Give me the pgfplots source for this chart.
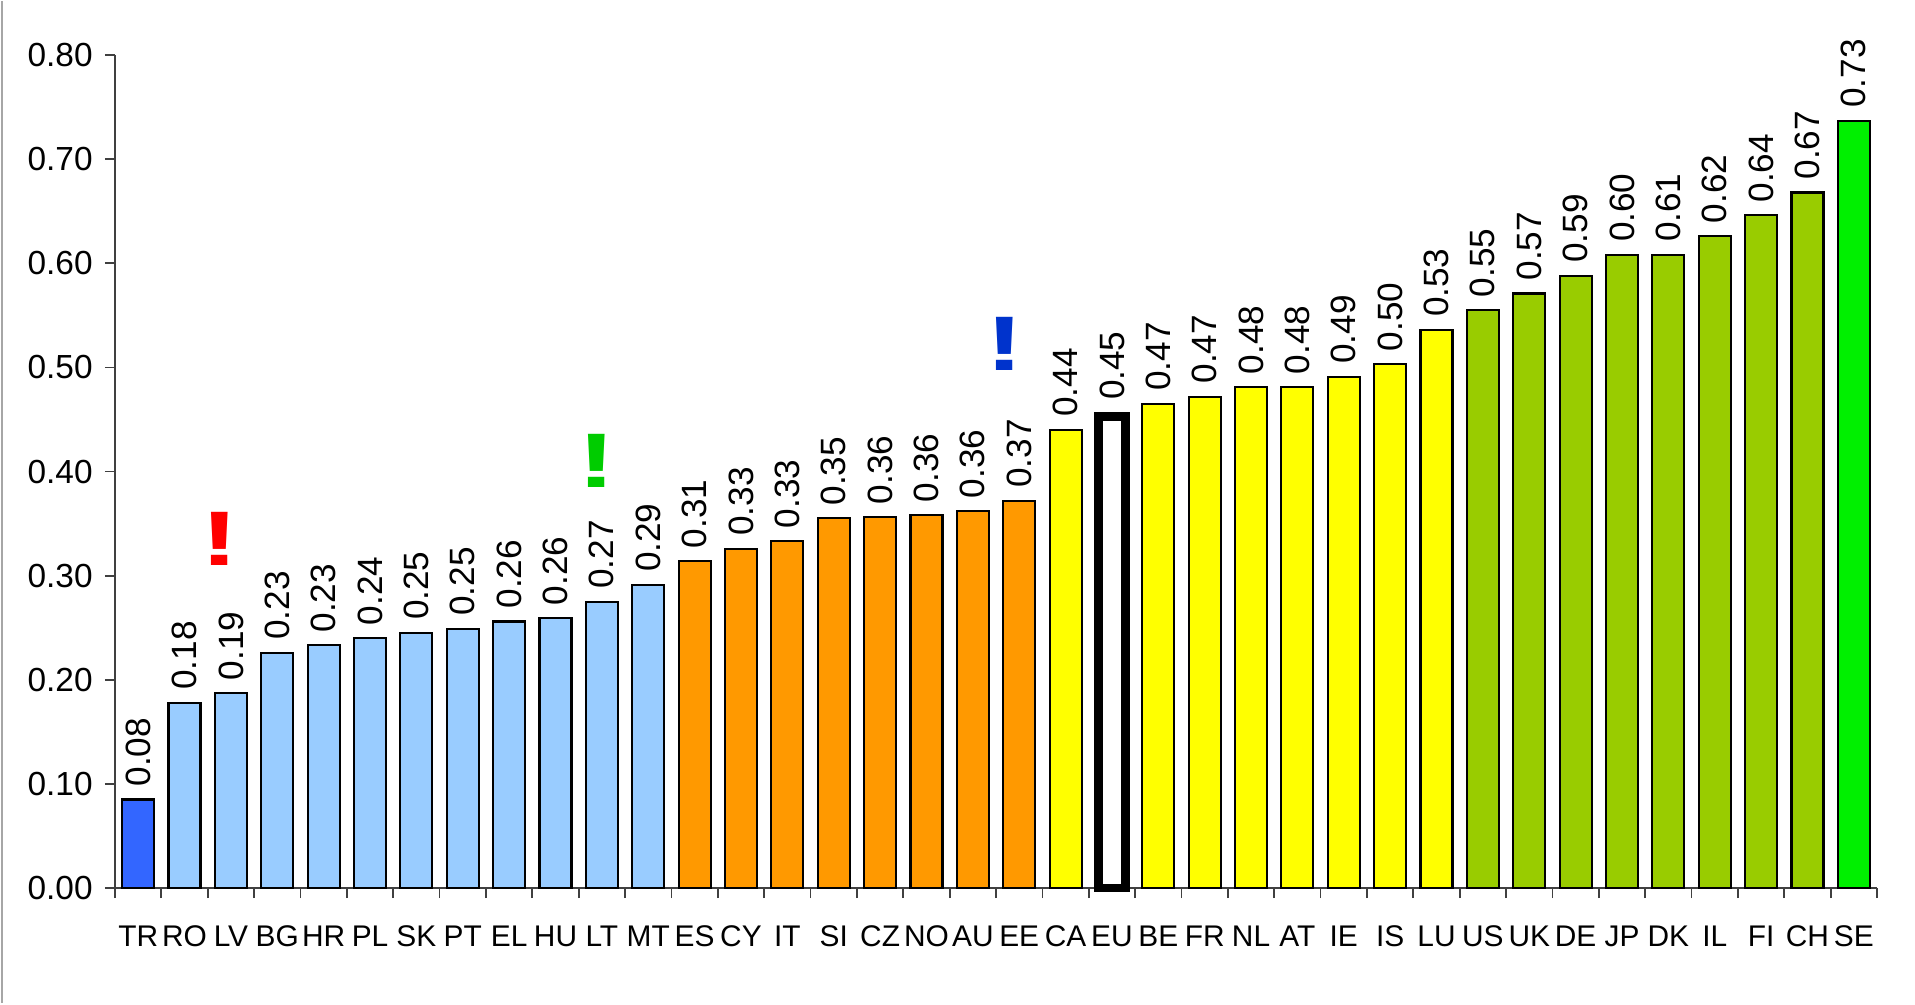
\documentclass[border=0pt]{standalone}
\usepackage{fontspec}
\setmainfont{Liberation Sans}
\usepackage{pgfplots}
\pgfplotsset{compat=1.18}
\definecolor{trblue}{HTML}{3366FF}
\definecolor{lblue}{HTML}{99CCFF}
\definecolor{orng}{HTML}{FF9900}
\definecolor{yell}{HTML}{FFFF00}
\definecolor{olive}{HTML}{99CC00}
\definecolor{brgreen}{HTML}{00F000}
\definecolor{excgreen}{HTML}{00CC00}
\definecolor{excblue}{HTML}{0033CC}

\begin{document}
\begin{tikzpicture}
  \begin{axis}[
    name=ax,
    scale only axis,
    width=176.2mm, height=83.3mm,
    ybar, bar width=3.2mm,
    every axis plot/.append style={bar shift=0pt, draw=black, line width=0.6pt},
    xmin=-0.5, xmax=37.5,
    ymin=0, ymax=0.8,
    axis lines*=left,
    axis line style={draw=black!75, line width=0.5pt},
    clip=false,
    xtick={0,...,37},
    xticklabels={TR,RO,LV,BG,HR,PL,SK,PT,EL,HU,LT,MT,ES,CY,IT,SI,CZ,NO,AU,EE,CA,EU,BE,FR,NL,AT,IE,IS,LU,US,UK,DE,JP,DK,IL,FI,CH,SE},
    minor xtick={-0.5,0.5,...,37.5},
    ytick={0,0.1,0.2,0.3,0.4,0.5,0.6,0.7,0.8},
    tick align=outside,
    major tick length=1mm, minor tick length=1mm,
    tick style={draw=black!75, line width=0.5pt},
    major x tick style={draw=none},
    y tick label style={/pgf/number format/fixed, /pgf/number format/fixed zerofill,
      /pgf/number format/precision=2, /pgf/number format/assume math mode=true,
      font=\fontsize{9.5}{11}\selectfont},
    x tick label style={font=\fontsize{8.5}{10}\selectfont, yshift=-1.5mm},
    nodes near coords,
    point meta=explicit symbolic,
    every node near coord/.append style={rotate=90, anchor=west,
      font=\fontsize{10}{12}\selectfont, text=black, inner sep=1.2mm},
  ]
    % TR
    \addplot[fill=trblue] coordinates {(0,0.085)[0.08]};
    % light blue group
    \addplot[fill=lblue] coordinates {
      (1,0.178)[0.18] (2,0.187)[0.19] (3,0.226)[0.23] (4,0.233)[0.23]
      (5,0.240)[0.24] (6,0.245)[0.25] (7,0.249)[0.25] (8,0.256)[0.26]
      (9,0.259)[0.26] (10,0.275)[0.27] (11,0.291)[0.29]};
    % orange group
    \addplot[fill=orng] coordinates {
      (12,0.314)[0.31] (13,0.326)[0.33] (14,0.333)[0.33] (15,0.355)[0.35]
      (16,0.356)[0.36] (17,0.358)[0.36] (18,0.362)[0.36] (19,0.372)[0.37]};
    % yellow group
    \addplot[fill=yell] coordinates {
      (20,0.440)[0.44] (22,0.465)[0.47] (23,0.472)[0.47] (24,0.481)[0.48]
      (25,0.481)[0.48] (26,0.491)[0.49] (27,0.503)[0.50] (28,0.536)[0.53]};
    % EU average
    \addplot[fill=white, line width=2.5pt, bar width=2.7mm] coordinates {(21,0.453)[0.45]};
    % green group
    \addplot[fill=olive] coordinates {
      (29,0.555)[0.55] (30,0.571)[0.57] (31,0.588)[0.59] (32,0.608)[0.60]
      (33,0.608)[0.61] (34,0.626)[0.62] (35,0.646)[0.64] (36,0.668)[0.67]};
    % SE
    \addplot[fill=brgreen] coordinates {(37,0.737)[0.73]};

    \node[text=red, font=\bfseries\fontsize{22}{24}\selectfont] at (axis cs:1.75,0.335) {\scalebox{1.5}[1]{!}};
    \node[text=excgreen, font=\bfseries\fontsize{22}{24}\selectfont] at (axis cs:9.9,0.41) {\scalebox{1.5}[1]{!}};
    \node[text=excblue, font=\bfseries\fontsize{22}{24}\selectfont] at (axis cs:18.7,0.523) {\scalebox{1.5}[1]{!}};
  \end{axis}
  \draw[black!35, line width=0.6pt] ([shift={(-11.3mm,-11.5mm)}]ax.south west) -- ([shift={(-11.3mm,5.4mm)}]ax.north west);
  \path ([shift={(-11.5mm,-11.5mm)}]ax.south west) rectangle ([shift={(3.8mm,5.4mm)}]ax.north east);
\end{tikzpicture}
\end{document}
